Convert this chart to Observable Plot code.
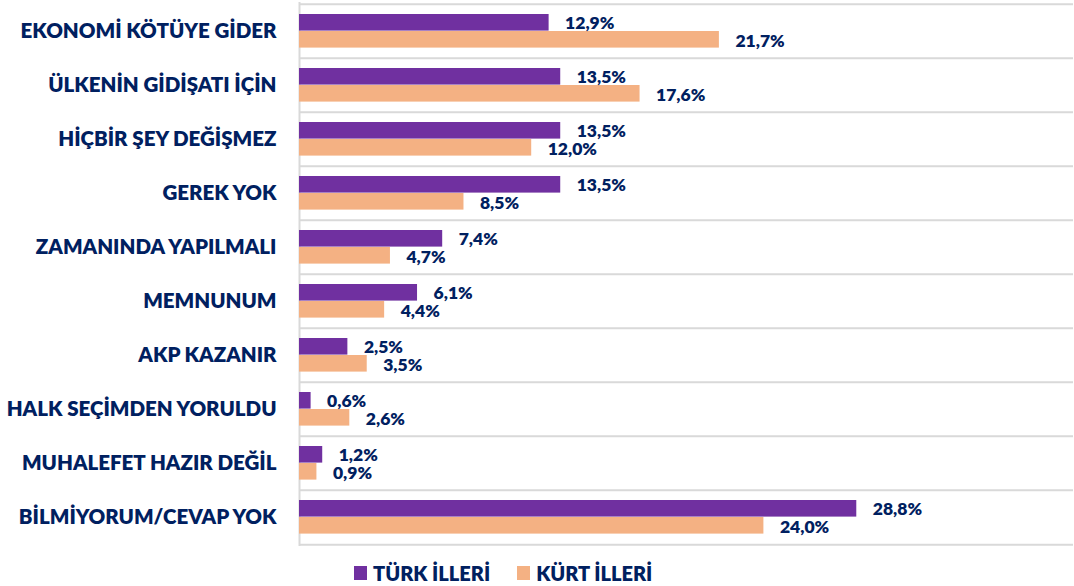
<!DOCTYPE html>
<html><head><meta charset="utf-8">
<script src="https://cdn.jsdelivr.net/npm/d3@7"></script>
<script src="https://cdn.jsdelivr.net/npm/@observablehq/plot@0.6"></script>
<style>
body{margin:0;background:#fff;font-family:Lato,"Open Sans",sans-serif;}
#legend{display:flex;align-items:center;padding-left:354px;margin-top:13px;font-weight:800;font-size:20px;color:#002060;}
#legend span.sw{display:inline-block;width:13px;height:14px;margin-right:6px;}
#legend .item{display:flex;align-items:center;margin-right:27px;}
</style></head>
<body>
<div id="chart"></div>
<script>
const categories = ["EKONOMİ KÖTÜYE GİDER","ÜLKENİN GİDİŞATI İÇİN","HİÇBİR ŞEY DEĞİŞMEZ","GEREK YOK","ZAMANINDA YAPILMALI","MEMNUNUM","AKP KAZANIR","HALK SEÇİMDEN YORULDU","MUHALEFET HAZIR DEĞİL","BİLMİYORUM/CEVAP YOK"];
const turk = [12.9,13.5,13.5,13.5,7.4,6.1,2.5,0.6,1.2,28.8];
const kurt = [21.7,17.6,12.0,8.5,4.7,4.4,3.5,2.6,0.9,24.0];
const seriesNames = ["TÜRK İLLERİ","KÜRT İLLERİ"];
const colors = ["#7030A0","#F4B183"];
const textColor = "#002060";

const turkData = categories.map((c,i)=>({cat:c, v:turk[i]}));
const kurtData = categories.map((c,i)=>({cat:c, v:kurt[i]}));
const fmt = v => v.toFixed(1).replace(".", ",") + "%";

const height = 548, marginTop = 2, marginBottom = 2;
const step = (height - marginTop - marginBottom) / categories.length;

const chart = Plot.plot({
  width: 1074,
  height,
  marginLeft: 299,
  marginRight: 1,
  marginTop,
  marginBottom,
  style: {fontFamily: "Lato, 'Open Sans', sans-serif", background: "#fff"},
  x: {domain: [0, 40], axis: null},
  y: {domain: categories, padding: 0, label: null, tickSize: 0, tickPadding: 23},
  marks: [
    Plot.ruleY(categories, {y: d => d, x1: 0, x2: 40, dy: -step/2, stroke: "#D9D9D9", strokeWidth: 2}),
    Plot.ruleY(categories.slice(-1), {y: d => d, x1: 0, x2: 40, dy: step/2, stroke: "#D9D9D9", strokeWidth: 2}),
    Plot.ruleX([0], {stroke: "#D9D9D9", strokeWidth: 2}),
    Plot.barX(turkData, {y: "cat", x: "v", fill: colors[0], insetTop: 10, insetBottom: step - 27}),
    Plot.barX(kurtData, {y: "cat", x: "v", fill: colors[1], insetTop: 27, insetBottom: step - 44}),
    Plot.text(turkData, {y: "cat", x: "v", text: d => fmt(d.v), dx: 16, dy: -8, textAnchor: "start", fill: textColor, fontWeight: 800, fontSize: 17.5}),
    Plot.text(kurtData, {y: "cat", x: "v", text: d => fmt(d.v), dx: 16, dy: 10, textAnchor: "start", fill: textColor, fontWeight: 800, fontSize: 17.5}),
    Plot.axisY({tickSize: 0, tickPadding: 23, fontSize: 20.5, fontWeight: 800, fill: textColor, label: null})
  ]
});
document.getElementById("chart").appendChild(chart);

const legend = document.createElement("div");
legend.id = "legend";
seriesNames.forEach((n,i)=>{
  const it = document.createElement("div"); it.className="item";
  const sw = document.createElement("span"); sw.className="sw"; sw.style.background = colors[i];
  it.appendChild(sw); it.appendChild(document.createTextNode(n));
  legend.appendChild(it);
});
document.body.appendChild(legend);
</script>
</body></html>
